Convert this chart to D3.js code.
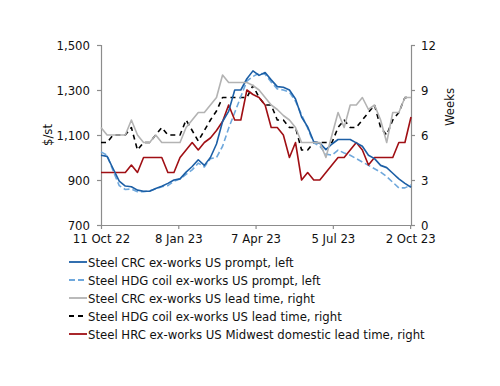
<!DOCTYPE html>
<html>
<head>
<meta charset="utf-8">
<script src="https://cdn.jsdelivr.net/npm/d3@7"></script>
<style>
  body { margin: 0; background: #fff; }
  text { font-family: "DejaVu Sans Condensed", "Liberation Sans", sans-serif; fill: #111; }
</style>
</head>
<body>
<div id="chart"></div>
<script>
// weekly series, first week 11 Oct 22
var startDate = "2022-10-11";
var weeks = 52;

var crcPrompt = [1010, 1005, 950, 895, 873, 870, 855, 850, 850, 862, 872, 885, 900, 905, 935, 960, 990, 965, 1000, 1060,
  1160, 1205, 1300, 1300, 1350, 1385, 1365, 1378, 1345, 1315, 1312, 1300, 1260, 1180, 1136, 1070, 1064, 1035, 1060, 1080,
  1080, 1080, 1065, 1050, 1010, 995, 965, 955, 930, 905, 885, 868];
var hdgPrompt = [1025, 1010, 940, 875, 858, 860, 848, 848, 852, 860, 870, 875, 895, 905, 925, 945, 975, 958, 995, 1000,
  1050, 1130, 1200, 1270, 1340, 1360, 1375, 1370, 1335, 1305, 1300, 1290, 1250, 1190, 1130, 1065, 1050, 1015, 1010, 1033,
  1020, 1010, 995, 980, 965, 950, 935, 915, 890, 865, 865, 878];
var crcLead = [6.5, 6, 6, 6, 6, 7, 6, 5.5, 5.5, 6, 5.5, 5.5, 5.5, 5.5, 6.5, 7, 7.5, 7.5, 8, 8.5,
  10, 9.5, 9.5, 9.5, 9.5, 9.3, 9, 8.5, 8, 7.7, 7.3, 7, 6.5, 5.5, 5.5, 5.5, 5.5, 4.5, 6, 7.5,
  6.5, 8, 8, 8.5, 7.7, 8, 7, 5.5, 7.5, 7.5, 8.5, 8.5];
var hdgLead = [5.5, 5.5, 6, 6, 6, 6.5, 5, 5.5, 5.5, 6, 6.5, 6, 6, 6, 7, 6.3, 5.6, 6.3, 7, 7.6,
  8.5, 8.5, 8.5, 8.5, 8.5, 9.3, 8.5, 8, 8, 7, 7, 6.5, 6.5, 5, 5, 5.5, 5.5, 5.5, 5.5, 6.5,
  7, 6.5, 6.5, 7, 7.5, 8, 6.5, 6, 7, 7.5, 8.5, 8.5];
var hrcLead = [3.5, 3.5, 3.5, 3.5, 3.5, 4, 3.5, 4.5, 4.5, 4.5, 4.5, 3.5, 3.5, 4.5, 5, 5.5, 5, 5.5, 5.8, 6.3,
  6.9, 8, 7, 7, 9, 8.7, 8.5, 8, 6.5, 6.5, 6, 4.5, 5.5, 3, 3.5, 3, 3, 3.5, 4, 4.5,
  4.5, 5, 5.5, 5, 4, 4.5, 4.5, 4.5, 4.5, 5.5, 5.5, 7.2];

var xTickLabels = ["11 Oct 22", "8 Jan 23", "7 Apr 23", "5 Jul 23", "2 Oct 23"];
var xTickDates = ["2022-10-11", "2023-01-08", "2023-04-07", "2023-07-05", "2023-10-02"];
var leftTicks = [700, 900, 1100, 1300, 1500];
var rightTicks = [0, 3, 6, 9, 12];

var seriesNames = ["Steel CRC ex-works US prompt, left", "Steel HDG coil ex-works US prompt, left",
  "Steel CRC ex-works US lead time, right", "Steel HDG coil ex-works US lead time, right",
  "Steel HRC ex-works US Midwest domestic lead time, right"];
var seriesColors = ["#1c5fa6", "#6fa8dc", "#b3b3b3", "#000000", "#a00f14"];
var seriesDash = [null, "6,3", null, "5,4", null];

var width = 500, height = 386;
var margin = {top: 45, right: 89, bottom: 161, left: 101};

var parse = d3.timeParse("%Y-%m-%d");
var dates = d3.range(weeks).map(function(i) { return d3.timeDay.offset(parse(startDate), 7 * i); });

var svg = d3.select("#chart").append("svg")
  .attr("width", width)
  .attr("height", height);

var x = d3.scaleTime()
  .domain([dates[0], dates[dates.length - 1]])
  .range([margin.left, width - margin.right]);
var yL = d3.scaleLinear().domain([700, 1500]).range([height - margin.bottom, margin.top]);
var yR = d3.scaleLinear().domain([0, 12]).range([height - margin.bottom, margin.top]);

var axisColor = "#8c8c8c";

// axes
var xAxis = svg.append("g")
  .attr("transform", "translate(0," + (height - margin.bottom) + ")")
  .call(d3.axisBottom(x).tickValues(xTickDates.map(parse)).tickSize(4).tickPadding(5)
    .tickFormat(function(d, i) { return xTickLabels[i]; }));
var lAxis = svg.append("g")
  .attr("transform", "translate(" + margin.left + ",0)")
  .call(d3.axisLeft(yL).tickValues(leftTicks).tickSize(4).tickPadding(7).tickFormat(d3.format(",")));
var rAxis = svg.append("g")
  .attr("transform", "translate(" + (width - margin.right) + ",0)")
  .call(d3.axisRight(yR).tickValues(rightTicks).tickSize(4).tickPadding(6));

[xAxis, lAxis, rAxis].forEach(function(g) {
  g.select(".domain").attr("stroke", axisColor).attr("stroke-width", 1.2);
  g.selectAll(".tick line").attr("stroke", axisColor).attr("stroke-width", 1.2);
  g.selectAll(".tick text").style("font-size", "13px").attr("fill", "#111");
});
lAxis.select(".domain").attr("d", "M0.5," + yL(1500) + "V" + yL(700));
rAxis.select(".domain").attr("d", "M0.5," + yR(12) + "V" + yR(0));
xAxis.select(".domain").attr("d", "M" + margin.left + ",0.5H" + (width - margin.right));

svg.append("text")
  .attr("transform", "translate(47,135) rotate(-90)")
  .attr("text-anchor", "middle")
  .attr("dy", "0.35em")
  .style("font-size", "13px")
  .text("$/st");
svg.append("text")
  .attr("transform", "translate(449,107) rotate(-90)")
  .attr("text-anchor", "middle")
  .attr("dy", "0.35em")
  .style("font-size", "13px")
  .text("Weeks");

// lines: draw right-axis ones first, then prompt prices
var allSeries = [
  {vals: hrcLead, s: yR, i: 4},
  {vals: crcLead, s: yR, i: 2},
  {vals: hdgLead, s: yR, i: 3},
  {vals: hdgPrompt, s: yL, i: 1},
  {vals: crcPrompt, s: yL, i: 0}
];
var drawOrder = [2, 3, 0, 4, 1];

drawOrder.forEach(function(k) {
  var ser = allSeries[k];
  var line = d3.line()
    .x(function(d, j) { return x(dates[j]); })
    .y(function(d) { return ser.s(d); });
  svg.append("path")
    .datum(ser.vals)
    .attr("fill", "none")
    .attr("stroke", seriesColors[ser.i])
    .attr("stroke-width", 1.6)
    .attr("stroke-dasharray", seriesDash[ser.i])
    .attr("stroke-linejoin", "round")
    .attr("d", line);
});

// legend
var legend = svg.append("g");
seriesNames.forEach(function(name, i) {
  var yy = 262 + i * 18;
  legend.append("line")
    .attr("x1", 69).attr("x2", 87)
    .attr("y1", yy).attr("y2", yy)
    .attr("stroke", seriesColors[i])
    .attr("stroke-width", 1.8)
    .attr("stroke-dasharray", seriesDash[i]);
  legend.append("text")
    .attr("x", 88).attr("y", yy)
    .attr("dy", "0.35em")
    .style("font-size", "13px")
    .text(name);
});
</script>
</body>
</html>
